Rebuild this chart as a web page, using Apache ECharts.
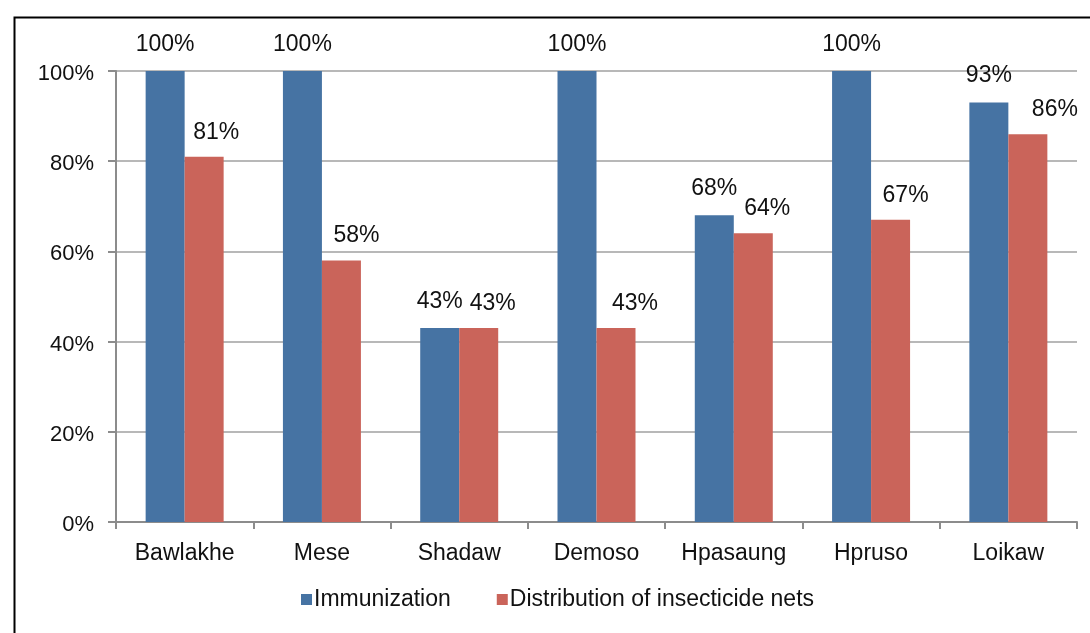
<!DOCTYPE html>
<html>
<head>
<meta charset="utf-8">
<script src="https://cdn.jsdelivr.net/npm/echarts@6/dist/echarts.min.js"></script>
<style>
html,body{margin:0;padding:0;background:#fff;}
#chart{width:1090px;height:633px;}
</style>
</head>
<body>
<div id="chart"></div>
<script>
var categories = ['Bawlakhe', 'Mese', 'Shadaw', 'Demoso', 'Hpasaung', 'Hpruso', 'Loikaw'];
var immunization = [100, 100, 43, 100, 68, 100, 93];
var nets = [81, 58, 43, 43, 64, 67, 86];
var seriesNames = ['Immunization', 'Distribution of insecticide nets'];
var yTicks = [0, 20, 40, 60, 80, 100];
// label nudges (style only), as placed in the original chart
var netsLabelDx = [12, 15, 14, 19, 14, 15, 27];

var FONT = '"Liberation Sans", Arial, sans-serif';
var chart = echarts.init(document.getElementById('chart'));
function pct(p) { return p.value + '%'; }
var netsData = nets.map(function (v, i) {
  return { value: v, label: { offset: [netsLabelDx[i], 0] } };
});
chart.setOption({
  animation: false,
  backgroundColor: '#fff',
  graphic: [{
    type: 'rect', left: 12, top: 15, silent: true, z: 100,
    shape: { x: 0, y: 0, width: 1100, height: 700 },
    style: { fill: 'none', stroke: '#000', lineWidth: 2 }
  }],
  grid: { left: 116, right: 13, top: 71, bottom: 111, containLabel: false },
  legend: {
    left: 296, top: 583,
    itemWidth: 11, itemHeight: 11, itemGap: 46,
    icon: 'rect',
    textStyle: { fontSize: 23, fontFamily: FONT, color: '#111', padding: [3, 0, 0, -3] },
    data: seriesNames
  },
  xAxis: {
    type: 'category', data: categories,
    axisLine: { lineStyle: { color: '#8c8c8c', width: 2 } },
    axisTick: { show: true, length: 7, lineStyle: { color: '#8c8c8c', width: 2 } },
    axisLabel: { fontSize: 23, fontFamily: FONT, color: '#111', margin: 20 }
  },
  yAxis: {
    type: 'value', min: 0, max: 100, interval: 20,
    axisLine: { show: true, lineStyle: { color: '#8c8c8c', width: 2 } },
    axisTick: { show: true, length: 8, lineStyle: { color: '#8c8c8c', width: 2 } },
    axisLabel: {
      fontSize: 22, fontFamily: FONT, color: '#111', margin: 22,
      formatter: function (v) { return yTicks.indexOf(v) >= 0 ? '{s|}\n{t|' + v + '%}' : ''; },
      rich: {
        s: { lineHeight: 6, fontSize: 6 },
        t: { lineHeight: 22, fontSize: 22, fontFamily: FONT, color: '#111' }
      }
    },
    splitLine: { show: true, lineStyle: { color: '#a0a0a0', width: 1.5 } }
  },
  series: [
    {
      name: seriesNames[0], type: 'bar', data: immunization,
      barWidth: 39, barGap: '0%',
      itemStyle: { color: '#4673a3' },
      label: { show: true, position: 'top', distance: 15, formatter: pct,
               color: '#111', fontSize: 23, fontFamily: FONT }
    },
    {
      name: seriesNames[1], type: 'bar', data: netsData,
      barWidth: 39, barGap: '0%',
      itemStyle: { color: '#ca645a' },
      label: { show: true, position: 'top', distance: 13, formatter: pct,
               color: '#111', fontSize: 23, fontFamily: FONT }
    }
  ]
});
</script>
</body>
</html>
